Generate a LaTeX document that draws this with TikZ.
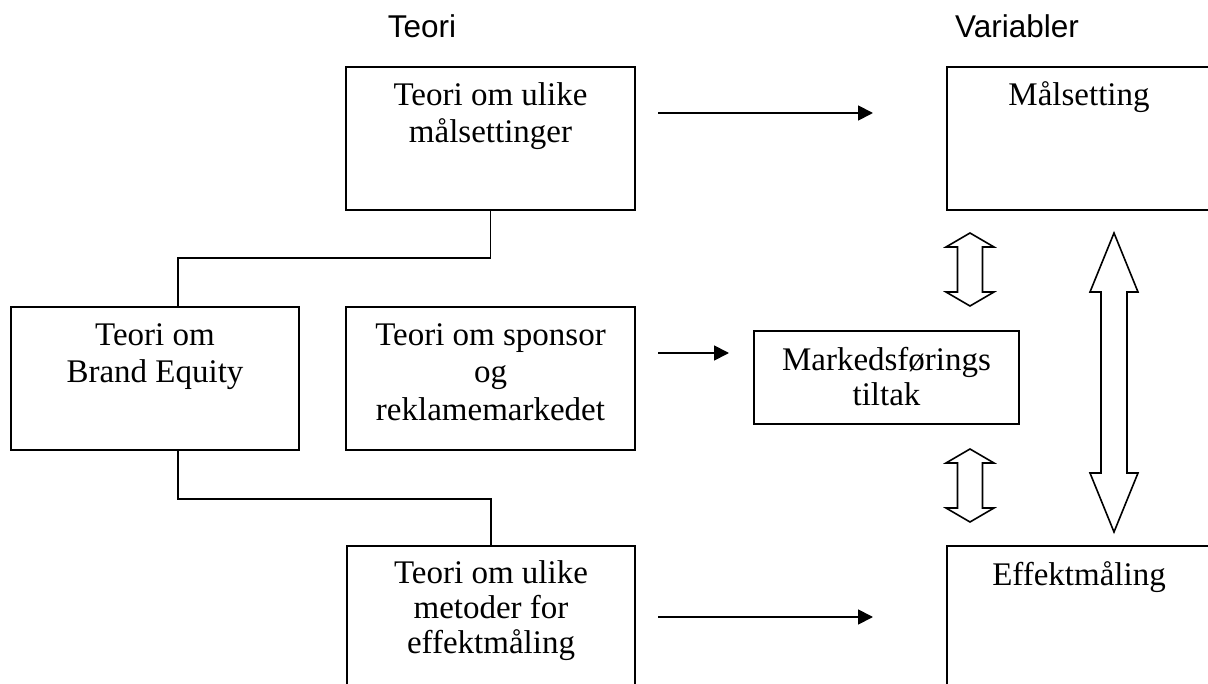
\documentclass[tikz,border=0pt]{standalone}
\usepackage{fontspec}
\setmainfont{Liberation Serif}
\newfontfamily\headfont{Liberation Sans}
\usetikzlibrary{arrows.meta,calc}

% hollow two-headed block arrow: x, y-top, y-bottom, head length, shaft half-width, head half-width
\newcommand\dblblock[6]{%
  \draw[blockarrow] (#1,#2) -- (#1+#6,#2+#4) -- (#1+#5,#2+#4) -- (#1+#5,#3-#4)
    -- (#1+#6,#3-#4) -- (#1,#3) -- (#1-#6,#3-#4) -- (#1-#5,#3-#4)
    -- (#1-#5,#2+#4) -- (#1-#6,#2+#4) -- cycle;}
\newcommand\upstrut{\rule{0pt}{28pt}}

\begin{document}
\begin{tikzpicture}[x=1pt,y=-1pt,
  box/.style={draw,line width=2pt,rectangle,inner sep=0pt,anchor=north west},
  boxtext/.style={anchor=north,inner sep=0pt,align=center,font=\fontsize{33}{37.5}\selectfont},
  head/.style={font=\headfont\fontsize{31.5}{36}\selectfont,anchor=base,inner sep=0pt},
  link/.style={line width=1.8pt},
  flow/.style={line width=1.8pt,-{Triangle[length=15pt,width=15pt]}},
  blockarrow/.style={draw,line width=1.6pt,fill=white,line join=miter}]

\useasboundingbox (0,0) rectangle (1208,684);
\clip (0,0) rectangle (1208,684);

% column headings
\node[head] (hteori) at (422,38) {Teori};
\node[head] (hvar) at (1017,38) {Variabler};

% theory boxes
\node[box,minimum width=289pt,minimum height=143pt] (teorimaal) at (345,66) {};
\node[box,minimum width=288pt,minimum height=143pt] (brand) at (10,306) {};
\node[box,minimum width=289pt,minimum height=143pt] (sponsor) at (345,306) {};
\node[box,minimum width=288pt,minimum height=200pt] (metode) at (346,545) {};

% variable boxes
\node[box,minimum width=264pt,minimum height=143pt] (maal) at (946,66) {};
\node[box,minimum width=265pt,minimum height=93pt] (tiltak) at (753,330) {};
\node[box,minimum width=264pt,minimum height=200pt] (effekt) at (946,545) {};

% box texts
\node[boxtext] (teorimaal-t) at ($(teorimaal.north)+(0,11)$) {\upstrut Teori om ulike\\målsettinger};
\node[boxtext] (brand-t) at ($(brand.north)+(0,11)$) {\upstrut Teori om\\Brand Equity};
\node[boxtext] (sponsor-t) at ($(sponsor.north)+(0,11)$) {\upstrut Teori om sponsor\\og\\reklamemarkedet};
\node[boxtext,font=\fontsize{33}{35}\selectfont] (metode-t) at ($(metode.north)+(0,10)$) {\upstrut Teori om ulike\\metoder for\\effektmåling};
\node[boxtext] (maal-t) at ($(maal.north)+(0,11)$) {\upstrut Målsetting};
\node[boxtext,font=\fontsize{33}{35}\selectfont] (tiltak-t) at ($(tiltak.north)+(0,12)$) {\upstrut Markedsførings\\tiltak};
\node[boxtext] (effekt-t) at ($(effekt.north)+(0,12)$) {\upstrut Effektmåling};

% links between theory boxes
\draw[link] (teorimaal.south) |- ($(brand.north west)+(168,-48)$) -- ($(brand.north west)+(168,0)$);
\draw[link] ($(brand.south west)+(168,0)$) -- ++(0,48) -| (metode.north);

% arrows from theory to variables
\coordinate (f1s) at (658,113);
\coordinate (f1e) at (873,113);
\coordinate (f2s) at (658,353);
\coordinate (f2e) at (729,353);
\coordinate (f3s) at (658,617);
\coordinate (f3e) at (873,617);
\draw[flow] (f1s) -- (f1e);
\draw[flow] (f2s) -- (f2e);
\draw[flow] (f3s) -- (f3e);

% two-headed block arrows between the variables
\dblblock{970}{233}{306}{14}{12.5}{24}
\dblblock{970}{449}{522}{14}{12.5}{24}
\dblblock{1114}{233}{532}{59}{13}{24}

\end{tikzpicture}
\end{document}
